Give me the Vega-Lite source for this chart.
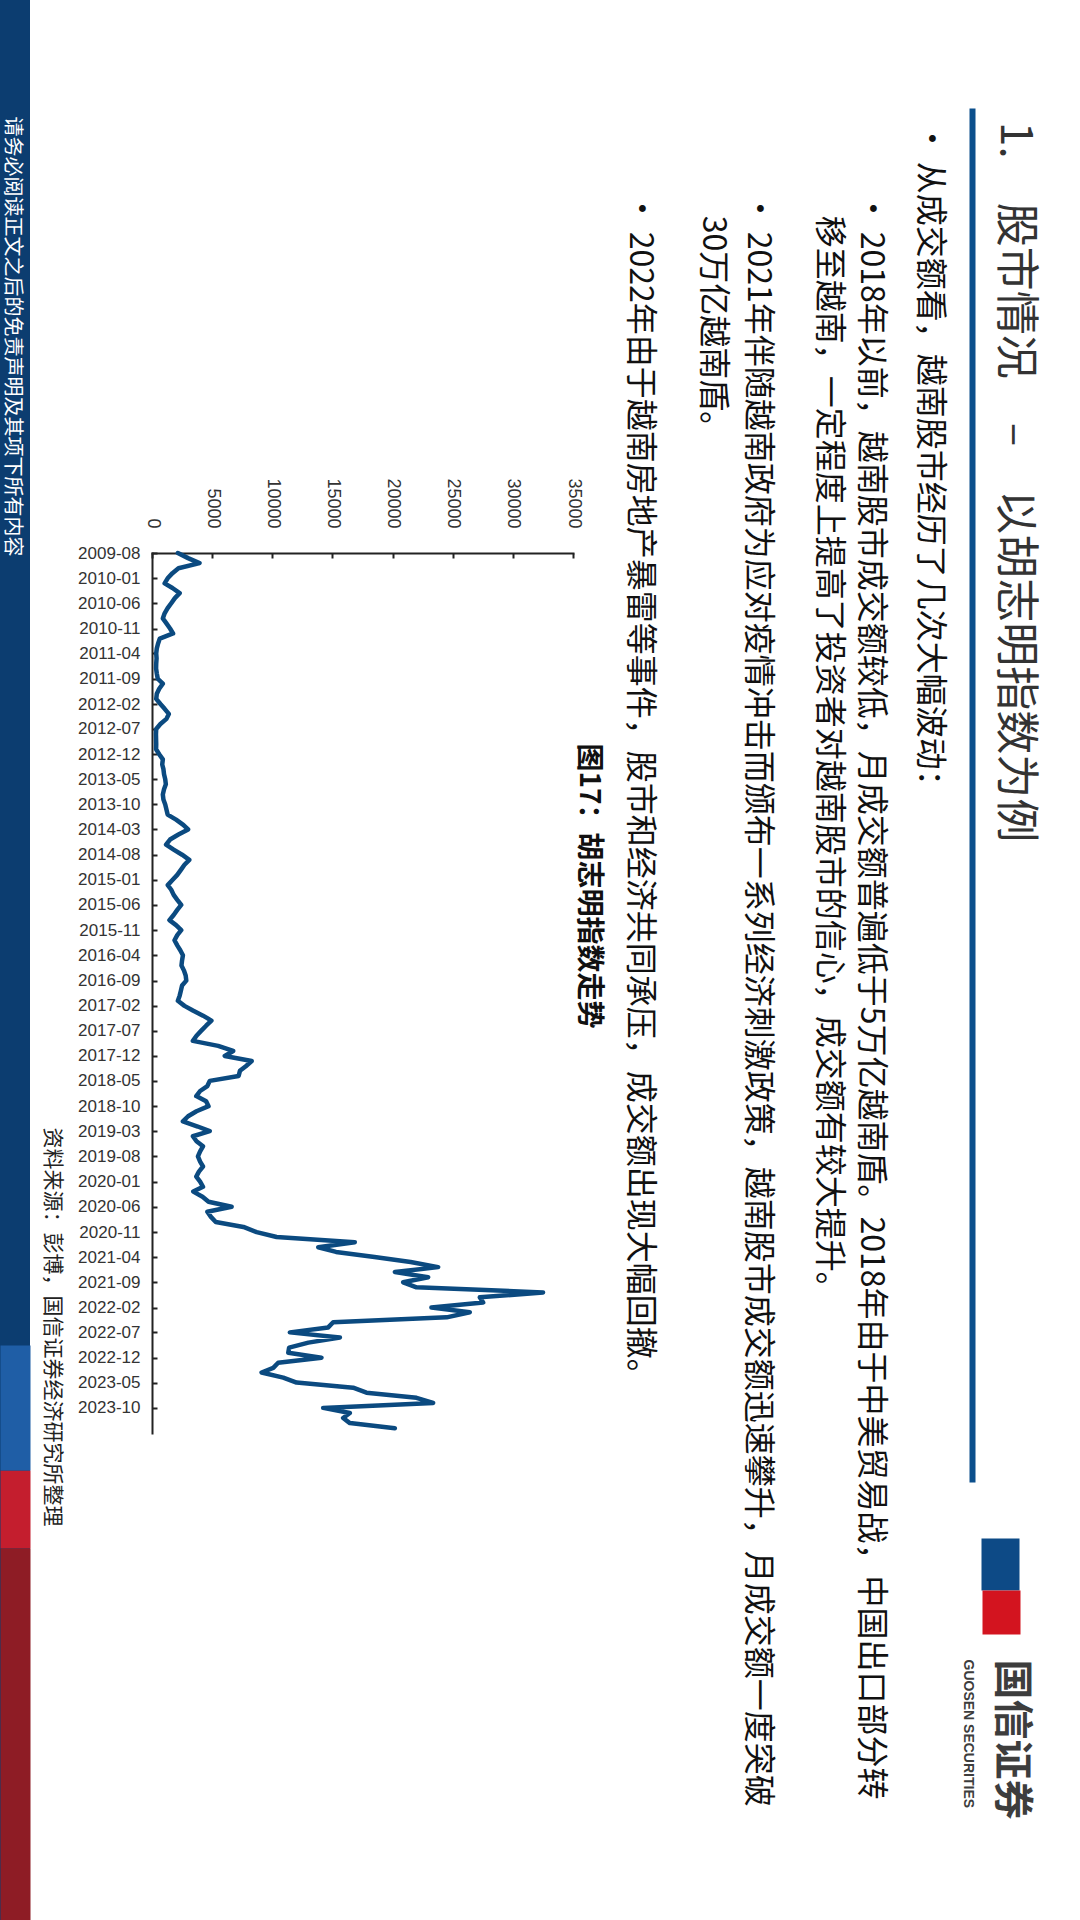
{
  "$schema": "https://vega.github.io/schema/vega-lite/v6.json",
  "width": 1080,
  "height": 1920,
  "autosize": {"type": "none"},
  "padding": 0,
  "background": "#ffffff",
  "view": {
    "stroke": null,
    "fill": {
      "gradient": "linear", "x1": 0, "y1": 0, "x2": 1, "y2": 0,
      "stops": [
        {"offset": 0, "color": "#0c3d70"},
        {"offset": 0.0275, "color": "#0c3d70"},
        {"offset": 0.0276, "color": "#ffffff"},
        {"offset": 1, "color": "#ffffff"}
      ]
    }
  },
  "title": {
    "text": "1.　股市情况　–　以胡志明指数为例",
    "orient": "right",
    "anchor": "start",
    "frame": "group",
    "offset": -88,
    "dx": 122,
    "font": "Noto Sans CJK SC",
    "fontSize": 44,
    "fontWeight": "normal",
    "color": "#333333"
  },
  "data": {
    "values": [
      {"d": "2009-08", "v": 2150}, {"d": "2009-09", "v": 3000}, {"d": "2009-10", "v": 3950}, {"d": "2009-11", "v": 2200}, {"d": "2009-12", "v": 1700},
      {"d": "2010-01", "v": 1300}, {"d": "2010-02", "v": 1050}, {"d": "2010-03", "v": 1700}, {"d": "2010-04", "v": 2300}, {"d": "2010-05", "v": 1900}, {"d": "2010-06", "v": 1600},
      {"d": "2010-07", "v": 1300}, {"d": "2010-08", "v": 1050}, {"d": "2010-09", "v": 900}, {"d": "2010-10", "v": 1200}, {"d": "2010-11", "v": 1500}, {"d": "2010-12", "v": 1750},
      {"d": "2011-01", "v": 650}, {"d": "2011-02", "v": 500}, {"d": "2011-03", "v": 400}, {"d": "2011-04", "v": 350}, {"d": "2011-05", "v": 380}, {"d": "2011-06", "v": 350},
      {"d": "2011-07", "v": 340}, {"d": "2011-08", "v": 400}, {"d": "2011-09", "v": 480}, {"d": "2011-10", "v": 900}, {"d": "2011-11", "v": 600}, {"d": "2011-12", "v": 400},
      {"d": "2012-01", "v": 350}, {"d": "2012-02", "v": 700}, {"d": "2012-03", "v": 1050}, {"d": "2012-04", "v": 1400}, {"d": "2012-05", "v": 1200}, {"d": "2012-06", "v": 700},
      {"d": "2012-07", "v": 350}, {"d": "2012-08", "v": 330}, {"d": "2012-09", "v": 340}, {"d": "2012-10", "v": 350}, {"d": "2012-11", "v": 340}, {"d": "2012-12", "v": 600},
      {"d": "2013-01", "v": 900}, {"d": "2013-02", "v": 850}, {"d": "2013-03", "v": 950}, {"d": "2013-04", "v": 1000}, {"d": "2013-05", "v": 1100}, {"d": "2013-06", "v": 1150},
      {"d": "2013-07", "v": 1000}, {"d": "2013-08", "v": 900}, {"d": "2013-09", "v": 950}, {"d": "2013-10", "v": 1100}, {"d": "2013-11", "v": 1200}, {"d": "2013-12", "v": 1300},
      {"d": "2014-01", "v": 2000}, {"d": "2014-02", "v": 2600}, {"d": "2014-03", "v": 3000}, {"d": "2014-04", "v": 2200}, {"d": "2014-05", "v": 1500}, {"d": "2014-06", "v": 1170},
      {"d": "2014-07", "v": 1800}, {"d": "2014-08", "v": 2500}, {"d": "2014-09", "v": 3100}, {"d": "2014-10", "v": 2700}, {"d": "2014-11", "v": 2400}, {"d": "2014-12", "v": 2100},
      {"d": "2015-01", "v": 1700}, {"d": "2015-02", "v": 1310}, {"d": "2015-03", "v": 1600}, {"d": "2015-04", "v": 1800}, {"d": "2015-05", "v": 2100}, {"d": "2015-06", "v": 2430},
      {"d": "2015-07", "v": 2100}, {"d": "2015-08", "v": 1800}, {"d": "2015-09", "v": 1450}, {"d": "2015-10", "v": 2000}, {"d": "2015-11", "v": 2430}, {"d": "2015-12", "v": 2100},
      {"d": "2016-01", "v": 1870}, {"d": "2016-02", "v": 2100}, {"d": "2016-03", "v": 2350}, {"d": "2016-04", "v": 2570}, {"d": "2016-05", "v": 2500}, {"d": "2016-06", "v": 2450},
      {"d": "2016-07", "v": 2650}, {"d": "2016-08", "v": 2800}, {"d": "2016-09", "v": 2850}, {"d": "2016-10", "v": 2500}, {"d": "2016-11", "v": 2400}, {"d": "2016-12", "v": 2300},
      {"d": "2017-01", "v": 2150}, {"d": "2017-02", "v": 2700}, {"d": "2017-03", "v": 3400}, {"d": "2017-04", "v": 4240}, {"d": "2017-05", "v": 4940}, {"d": "2017-06", "v": 4500},
      {"d": "2017-07", "v": 4100}, {"d": "2017-08", "v": 3700}, {"d": "2017-09", "v": 3400}, {"d": "2017-10", "v": 5500}, {"d": "2017-11", "v": 6750}, {"d": "2017-12", "v": 6050},
      {"d": "2018-01", "v": 8290}, {"d": "2018-02", "v": 7800}, {"d": "2018-03", "v": 7310}, {"d": "2018-04", "v": 7200}, {"d": "2018-05", "v": 4800}, {"d": "2018-06", "v": 4600},
      {"d": "2018-07", "v": 4000}, {"d": "2018-08", "v": 3680}, {"d": "2018-09", "v": 4500}, {"d": "2018-10", "v": 4700}, {"d": "2018-11", "v": 3700}, {"d": "2018-12", "v": 3000},
      {"d": "2019-01", "v": 2570}, {"d": "2019-02", "v": 3800}, {"d": "2019-03", "v": 4800}, {"d": "2019-04", "v": 3400}, {"d": "2019-05", "v": 3700}, {"d": "2019-06", "v": 4240},
      {"d": "2019-07", "v": 4000}, {"d": "2019-08", "v": 3820}, {"d": "2019-09", "v": 4000}, {"d": "2019-10", "v": 4240}, {"d": "2019-11", "v": 3900}, {"d": "2019-12", "v": 3680},
      {"d": "2020-01", "v": 4000}, {"d": "2020-02", "v": 4240}, {"d": "2020-03", "v": 3430}, {"d": "2020-04", "v": 4200}, {"d": "2020-05", "v": 4700}, {"d": "2020-06", "v": 6620},
      {"d": "2020-07", "v": 4600}, {"d": "2020-08", "v": 4900}, {"d": "2020-09", "v": 5300}, {"d": "2020-10", "v": 7600}, {"d": "2020-11", "v": 8700}, {"d": "2020-12", "v": 10360},
      {"d": "2021-01", "v": 16860}, {"d": "2021-02", "v": 13820}, {"d": "2021-03", "v": 15300}, {"d": "2021-04", "v": 18500}, {"d": "2021-05", "v": 21500}, {"d": "2021-06", "v": 23790},
      {"d": "2021-07", "v": 20190}, {"d": "2021-08", "v": 22960}, {"d": "2021-09", "v": 20880}, {"d": "2021-10", "v": 21990}, {"d": "2021-11", "v": 32510}, {"d": "2021-12", "v": 27250},
      {"d": "2022-01", "v": 27530}, {"d": "2022-02", "v": 23230}, {"d": "2022-03", "v": 26420}, {"d": "2022-04", "v": 24500}, {"d": "2022-05", "v": 15060}, {"d": "2022-06", "v": 14650},
      {"d": "2022-07", "v": 11460}, {"d": "2022-08", "v": 15620}, {"d": "2022-09", "v": 13000}, {"d": "2022-10", "v": 11400}, {"d": "2022-11", "v": 11330}, {"d": "2022-12", "v": 14090},
      {"d": "2023-01", "v": 10490}, {"d": "2023-02", "v": 10080}, {"d": "2023-03", "v": 9110}, {"d": "2023-04", "v": 10910}, {"d": "2023-05", "v": 12020}, {"d": "2023-06", "v": 16720},
      {"d": "2023-07", "v": 17830}, {"d": "2023-08", "v": 21990}, {"d": "2023-09", "v": 23370}, {"d": "2023-10", "v": 14230}, {"d": "2023-11", "v": 16450}, {"d": "2023-12", "v": 15890},
      {"d": "2024-01", "v": 16450}, {"d": "2024-02", "v": 20190}
    ]
  },
  "layer": [
    {
      "mark": {"type": "line", "color": "#0b4a80", "strokeWidth": 4.5, "strokeJoin": "round", "strokeCap": "round"},
      "encoding": {
        "x": {
          "field": "v", "type": "quantitative",
          "scale": {"domain": [0, 35000], "range": [152, 573], "nice": false, "zero": true},
          "axis": {
            "orient": "top", "offset": -553,
            "values": [0, 5000, 10000, 15000, 20000, 25000, 30000, 35000],
            "format": "d", "grid": false,
            "labelAngle": 90, "labelAlign": "right", "labelBaseline": "middle",
            "labelPadding": 30, "labelFlush": false, "labelOverlap": false,
            "labelFont": "Liberation Sans", "labelFontSize": 18, "labelColor": "#333333",
            "tickSize": -5, "tickWidth": 2, "tickColor": "#222222",
            "domainColor": "#222222", "domainWidth": 2, "domainCap": "square",
            "title": "图17：胡志明指数走势",
            "titleX": 587, "titleY": 190, "titleAngle": 90,
            "titleAlign": "left", "titleBaseline": "middle",
            "titleFont": "Noto Sans CJK SC", "titleFontSize": 28, "titleFontWeight": "bold", "titleColor": "#111111"
          }
        },
        "y": {
          "field": "d", "type": "temporal",
          "scale": {"domain": [{"year": 2009, "month": 8, "date": 1}, {"year": 2024, "month": 3, "date": 1}], "range": [553, 1433]},
          "axis": {
            "orient": "left", "offset": -152, "grid": false,
            "values": [
              {"year": 2009, "month": 8}, {"year": 2010, "month": 1}, {"year": 2010, "month": 6}, {"year": 2010, "month": 11},
              {"year": 2011, "month": 4}, {"year": 2011, "month": 9}, {"year": 2012, "month": 2}, {"year": 2012, "month": 7},
              {"year": 2012, "month": 12}, {"year": 2013, "month": 5}, {"year": 2013, "month": 10}, {"year": 2014, "month": 3},
              {"year": 2014, "month": 8}, {"year": 2015, "month": 1}, {"year": 2015, "month": 6}, {"year": 2015, "month": 11},
              {"year": 2016, "month": 4}, {"year": 2016, "month": 9}, {"year": 2017, "month": 2}, {"year": 2017, "month": 7},
              {"year": 2017, "month": 12}, {"year": 2018, "month": 5}, {"year": 2018, "month": 10}, {"year": 2019, "month": 3},
              {"year": 2019, "month": 8}, {"year": 2020, "month": 1}, {"year": 2020, "month": 6}, {"year": 2020, "month": 11},
              {"year": 2021, "month": 4}, {"year": 2021, "month": 9}, {"year": 2022, "month": 2}, {"year": 2022, "month": 7},
              {"year": 2022, "month": 12}, {"year": 2023, "month": 5}, {"year": 2023, "month": 10}
            ],
            "format": "%Y-%m",
            "labelAngle": 0, "labelAlign": "right", "labelBaseline": "middle",
            "labelPadding": 17, "labelFlush": false, "labelOverlap": false,
            "labelFont": "Liberation Sans", "labelFontSize": 17, "labelColor": "#333333",
            "tickSize": -5, "tickWidth": 2, "tickColor": "#222222",
            "domainColor": "#222222", "domainWidth": 2, "domainCap": "square",
            "title": "资料来源：彭博，国信证券经济研究所整理",
            "titleX": -101, "titleY": 1127, "titleAngle": 90,
            "titleAlign": "left", "titleBaseline": "middle",
            "titleFont": "Noto Sans CJK SC", "titleFontSize": 21, "titleFontWeight": "normal", "titleColor": "#222222"
          }
        }
      }
    },
    {
      "mark": {"type": "line", "opacity": 0},
      "encoding": {
        "x": {
          "field": "v", "type": "quantitative",
          "axis": {
            "orient": "bottom", "offset": 0, "domain": false, "ticks": false, "labels": false, "grid": false,
            "title": "国信证券",
            "titleX": 1010, "titleY": -261, "titleAngle": 90,
            "titleAlign": "left", "titleBaseline": "middle",
            "titleFont": "Noto Sans CJK SC", "titleFontSize": 40, "titleFontWeight": "bold", "titleColor": "#3d3d3d"
          }
        },
        "y": {
          "field": "d", "type": "temporal",
          "scale": {"range": [108, 1482]},
          "axis": {
            "orient": "left", "offset": -972, "ticks": false, "labels": false, "grid": false,
            "domainColor": "#0b4f8c", "domainWidth": 6,
            "title": "请务必阅读正文之后的免责声明及其项下所有内容",
            "titleX": -961, "titleY": 116, "titleAngle": 90,
            "titleAlign": "left", "titleBaseline": "middle",
            "titleFont": "Noto Sans CJK SC", "titleFontSize": 20, "titleFontWeight": "normal", "titleColor": "#ffffff"
          }
        }
      }
    },
    {
      "mark": {"type": "line", "opacity": 0},
      "encoding": {
        "x": {
          "field": "v", "type": "quantitative",
          "axis": {
            "orient": "bottom", "offset": 0, "domain": false, "ticks": false, "labels": false, "grid": false,
            "title": "GUOSEN SECURITIES",
            "titleX": 967, "titleY": -261, "titleAngle": 90,
            "titleAlign": "left", "titleBaseline": "middle",
            "titleFont": "Liberation Sans", "titleFontSize": 14, "titleFontWeight": "bold", "titleColor": "#3d3d3d"
          }
        },
        "y": {
          "field": "d", "type": "temporal",
          "scale": {"range": [1470, 1548]},
          "axis": {
            "orient": "left", "offset": -15, "ticks": false, "labels": false, "grid": false,
            "domainColor": "#c41e2e", "domainWidth": 30,
            "title": "•\u00a0从成交额看，越南股市经历了几次大幅波动：",
            "titleX": 914, "titleY": 122, "titleAngle": 90,
            "titleAlign": "left", "titleBaseline": "middle",
            "titleFont": "Noto Sans CJK SC", "titleFontSize": 32, "titleFontWeight": "normal", "titleColor": "#111111"
          }
        }
      }
    },
    {
      "mark": {"type": "line", "opacity": 0},
      "encoding": {
        "x": {
          "field": "v", "type": "quantitative",
          "axis": {
            "orient": "bottom", "offset": 0, "domain": false, "ticks": false, "labels": false, "grid": false,
            "title": [
              "•\u00a02018年以前，越南股市成交额较低，月成交额普遍低于5万亿越南盾。2018年由于中美贸易战，中国出口部分转",
              "\u200b\u2002\u00a0移至越南，一定程度上提高了投资者对越南股市的信心，成交额有较大提升。"
            ],
            "titleX": 885, "titleY": -1728, "titleAngle": 90,
            "titleAlign": "left", "titleBaseline": "top", "titleLineHeight": 42,
            "titleFont": "Noto Sans CJK SC", "titleFontSize": 32, "titleFontWeight": "normal", "titleColor": "#111111"
          }
        },
        "y": {
          "field": "d", "type": "temporal",
          "scale": {"range": [1345, 1470]},
          "axis": {
            "orient": "left", "offset": -15, "ticks": false, "labels": false, "grid": false,
            "domainColor": "#1f5ea6", "domainWidth": 30,
            "title": [
              "•\u00a02021年伴随越南政府为应对疫情冲击而颁布一系列经济刺激政策，越南股市成交额迅速攀升，月成交额一度突破",
              "\u200b\u2002\u00a030万亿越南盾。"
            ],
            "titleX": 757, "titleY": 192, "titleAngle": 90,
            "titleAlign": "left", "titleBaseline": "top", "titleLineHeight": 45,
            "titleFont": "Noto Sans CJK SC", "titleFontSize": 32, "titleFontWeight": "normal", "titleColor": "#111111"
          }
        }
      }
    },
    {
      "mark": {"type": "line", "opacity": 0},
      "encoding": {
        "x": {
          "field": "v", "type": "quantitative",
          "axis": {
            "orient": "bottom", "offset": 0, "domain": false, "ticks": false, "labels": false, "grid": false,
            "title": "•\u00a02022年由于越南房地产暴雷等事件，股市和经济共同承压，成交额出现大幅回撤。",
            "titleX": 639, "titleY": -1728, "titleAngle": 90,
            "titleAlign": "left", "titleBaseline": "middle",
            "titleFont": "Noto Sans CJK SC", "titleFontSize": 32, "titleFontWeight": "normal", "titleColor": "#111111"
          }
        },
        "y": {
          "field": "d", "type": "temporal",
          "scale": {"range": [1548, 1920]},
          "axis": {
            "orient": "left", "offset": -15, "ticks": false, "labels": false, "grid": false,
            "domainColor": "#8e1c25", "domainWidth": 30,
            "title": null
          }
        }
      }
    },
    {
      "mark": {"type": "line", "opacity": 0},
      "encoding": {
        "x": {"field": "v", "type": "quantitative", "axis": null},
        "y": {
          "field": "d", "type": "temporal",
          "scale": {"range": [1538, 1590]},
          "axis": {
            "orient": "left", "offset": -1000, "ticks": false, "labels": false, "grid": false,
            "domainColor": "#0d4a86", "domainWidth": 38,
            "title": null
          }
        }
      }
    },
    {
      "mark": {"type": "line", "opacity": 0},
      "encoding": {
        "x": {"field": "v", "type": "quantitative", "axis": null},
        "y": {
          "field": "d", "type": "temporal",
          "scale": {"range": [1590, 1634]},
          "axis": {
            "orient": "left", "offset": -1001, "ticks": false, "labels": false, "grid": false,
            "domainColor": "#d3141f", "domainWidth": 38,
            "title": null
          }
        }
      }
    }
  ],
  "resolve": {
    "scale": {"y": "independent"},
    "axis": {"x": "independent", "y": "independent"}
  }
}
